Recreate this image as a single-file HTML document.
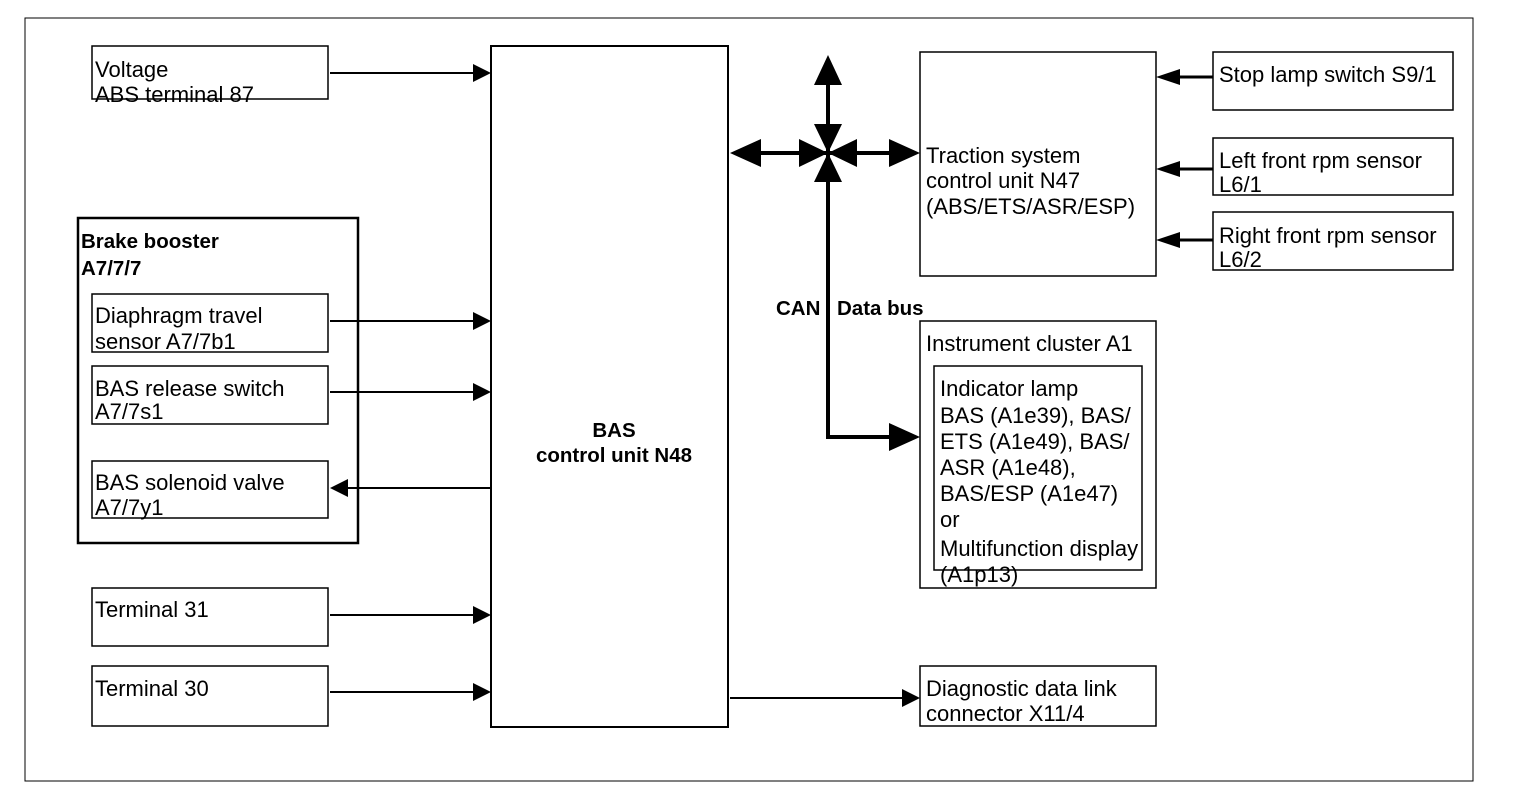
<!DOCTYPE html>
<html><head><meta charset="utf-8"><style>
body{margin:0;background:#fff}
svg{display:block}
text{font-family:"Liberation Sans",Arial,sans-serif;font-size:22px;fill:#000}
.b{font-weight:bold;font-size:20.5px}
</style></head><body>
<svg width="1520" height="812" viewBox="0 0 1520 812" xmlns="http://www.w3.org/2000/svg">
<rect x="25" y="18" width="1448" height="763" fill="none" stroke="#000" stroke-width="1"/>
<g fill="none" stroke="#000" stroke-width="1.5">
<rect x="92" y="46" width="236" height="53"/>
<rect x="78" y="218" width="280" height="325" stroke-width="2.5"/>
<rect x="92" y="294" width="236" height="58"/>
<rect x="92" y="366" width="236" height="58"/>
<rect x="92" y="461" width="236" height="57"/>
<rect x="92" y="588" width="236" height="58"/>
<rect x="92" y="666" width="236" height="60"/>
<rect x="491" y="46" width="237" height="681" stroke-width="2"/>
<rect x="920" y="52" width="236" height="224"/>
<rect x="1213" y="52" width="240" height="58"/>
<rect x="1213" y="138" width="240" height="57"/>
<rect x="1213" y="212" width="240" height="58"/>
<rect x="920" y="321" width="236" height="267"/>
<rect x="934" y="366" width="208" height="204"/>
<rect x="920" y="666" width="236" height="60"/>
</g>
<g stroke="#000" stroke-width="2" fill="none">
<line x1="330" y1="73" x2="478" y2="73"/>
<line x1="330" y1="321" x2="478" y2="321"/>
<line x1="330" y1="392" x2="478" y2="392"/>
<line x1="344" y1="488" x2="491" y2="488"/>
<line x1="330" y1="615" x2="478" y2="615"/>
<line x1="330" y1="692" x2="478" y2="692"/>
<line x1="730" y1="698" x2="906" y2="698"/>
</g>
<g fill="#000">
<polygon points="491,73 473,64 473,82"/>
<polygon points="491,321 473,312 473,330"/>
<polygon points="491,392 473,383 473,401"/>
<polygon points="330,488 348,479 348,497"/>
<polygon points="491,615 473,606 473,624"/>
<polygon points="491,692 473,683 473,701"/>
<polygon points="920,698 902,689 902,707"/>
</g>
<g stroke="#000" stroke-width="3" fill="none">
<line x1="1176" y1="77" x2="1213" y2="77"/>
<line x1="1176" y1="169" x2="1213" y2="169"/>
<line x1="1176" y1="240" x2="1213" y2="240"/>
</g>
<g fill="#000">
<polygon points="1156,77 1180,69 1180,85"/>
<polygon points="1156,169 1180,161 1180,177"/>
<polygon points="1156,240 1180,232 1180,248"/>
</g>
<g stroke="#000" stroke-width="4" fill="none">
<line x1="760" y1="153" x2="890" y2="153"/>
<line x1="828" y1="85" x2="828" y2="437"/>
<line x1="826" y1="437" x2="890" y2="437"/>
</g>
<g fill="#000">
<polygon points="828,55 814,85 842,85"/>
<polygon points="828,153 814,124 842,124"/>
<polygon points="828,153 814,182 842,182"/>
<polygon points="730,153 761,139 761,167"/>
<polygon points="828,153 799,139 799,167"/>
<polygon points="828,153 857,139 857,167"/>
<polygon points="920,153 889,139 889,167"/>
<polygon points="920,437 889,423 889,451"/>
</g>
<text x="95" y="77">Voltage</text>
<text x="95" y="102">ABS terminal 87</text>
<text class="b" x="81" y="248">Brake booster</text>
<text class="b" x="81" y="275">A7/7/7</text>
<text x="95" y="323">Diaphragm travel</text>
<text x="95" y="349">sensor A7/7b1</text>
<text x="95" y="396">BAS release switch</text>
<text x="95" y="419">A7/7s1</text>
<text x="95" y="490">BAS solenoid valve</text>
<text x="95" y="515">A7/7y1</text>
<text x="95" y="617">Terminal 31</text>
<text x="95" y="696">Terminal 30</text>
<text class="b" x="614" y="437" text-anchor="middle">BAS</text>
<text class="b" x="614" y="462" text-anchor="middle">control unit N48</text>
<text class="b" x="776" y="315">CAN</text>
<text class="b" x="837" y="315">Data bus</text>
<text x="926" y="163">Traction system</text>
<text x="926" y="188">control unit N47</text>
<text x="926" y="214">(ABS/ETS/ASR/ESP)</text>
<text x="1219" y="82">Stop lamp switch S9/1</text>
<text x="1219" y="168">Left front rpm sensor</text>
<text x="1219" y="192">L6/1</text>
<text x="1219" y="243">Right front rpm sensor</text>
<text x="1219" y="267">L6/2</text>
<text x="926" y="351">Instrument cluster A1</text>
<text x="940" y="396">Indicator lamp</text>
<text x="940" y="423">BAS (A1e39), BAS/</text>
<text x="940" y="449">ETS (A1e49), BAS/</text>
<text x="940" y="475">ASR (A1e48),</text>
<text x="940" y="501">BAS/ESP (A1e47)</text>
<text x="940" y="527">or</text>
<text x="940" y="556">Multifunction display</text>
<text x="940" y="582">(A1p13)</text>
<text x="926" y="696">Diagnostic data link</text>
<text x="926" y="721">connector X11/4</text>
</svg>
</body></html>
